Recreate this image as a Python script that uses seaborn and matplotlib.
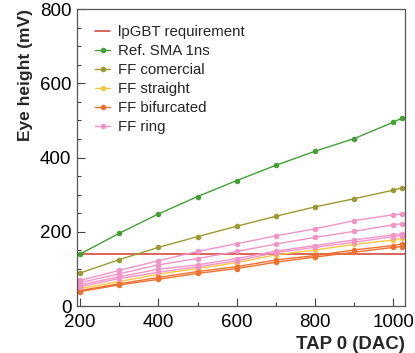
import numpy as np
import pandas as pd
import seaborn as sns
import matplotlib.pyplot as plt
from matplotlib.ticker import MultipleLocator

# Data ########################################################################

tap0 = [200, 300, 400, 500, 600, 700, 800, 900, 1000, 1023]

lpgbt_req = 140

sma_1ns = [140, 196, 248, 295, 338, 379, 417, 451, 495, 507]
ff_comercial = [89, 125, 158, 187, 215, 242, 267, 289, 312, 319]
ff_ring_a = [69, 96, 122, 147, 168, 189, 208, 230, 246, 248]
ff_ring_b = [63, 87, 111, 128, 147, 167, 185, 201, 219, 222]
ff_ring_c = [57, 79, 99, 111, 128, 148, 163, 178, 192, 194]
ff_ring_d = [52, 74, 91, 106, 122, 144, 158, 172, 187, 190]
ff_straight = [47, 66, 86, 101, 117, 138, 151, 166, 178, 183]
ff_bif_a = [42, 60, 77, 93, 106, 124, 136, 151, 163, 167]
ff_bif_b = [39, 57, 72, 88, 101, 118, 132, 145, 158, 160]

# (values, legend label or None, colour)
curves = [
    (sma_1ns, 'Ref. SMA 1ns', '#43a035'),
    (ff_comercial, 'FF comercial', '#9c9a30'),
    (ff_straight, 'FF straight', '#f7c742'),
    (ff_bif_a, 'FF bifurcated', '#f0702e'),
    (ff_bif_b, None, '#f0702e'),
    (ff_ring_a, 'FF ring', '#f294c8'),
    (ff_ring_b, None, '#f294c8'),
    (ff_ring_c, None, '#f294c8'),
    (ff_ring_d, None, '#f294c8'),
]

# Plot ########################################################################

sns.set_style('ticks')
plt.rcParams['font.family'] = ['Liberation Sans', 'DejaVu Sans']

fig = plt.figure(figsize=(4.15, 3.53), dpi=100)
ax = fig.add_axes([0.1855, 0.133, 0.7905, 0.8415])

ax.axhline(lpgbt_req, color='#d23a2a', linewidth=1.1, label='lpGBT requirement')

for vals, name, col in curves:
    df = pd.DataFrame({'tap0': tap0, 'eye': vals})
    sns.lineplot(
        data=df, x='tap0', y='eye', ax=ax,
        color=col, linewidth=1.0,
        marker='o', markersize=4, markeredgewidth=0,
        label=name if name else '_nolegend_',
    )

ax.set_xlim(192, 1030)
ax.set_ylim(0, 800)
ax.xaxis.set_major_locator(MultipleLocator(200))
ax.xaxis.set_minor_locator(MultipleLocator(100))
ax.yaxis.set_major_locator(MultipleLocator(200))
ax.yaxis.set_minor_locator(MultipleLocator(50))
ax.tick_params(which='both', direction='in', colors='#444444', labelcolor='black')
ax.tick_params(which='major', length=6, labelsize=13.5, width=0.8)
ax.tick_params(which='minor', length=3, width=0.8)
ax.tick_params(axis='x', pad=6)
ax.tick_params(axis='y', pad=4)
for s in ax.spines.values():
    s.set_color('#555555')
    s.set_linewidth(0.9)

ax.set_xlabel('TAP 0 (DAC)', fontsize=13.4, fontweight='bold', loc='right', labelpad=3)
ax.set_ylabel('Eye height (mV)', fontsize=12.5, fontweight='bold', loc='top', labelpad=5)

ax.legend(loc='upper left', frameon=False, fontsize=10.8, handlelength=1.0,
          handletextpad=0.55, labelspacing=0.33, borderaxespad=0.5,
          bbox_to_anchor=(0.014, 0.99))

plt.savefig('out.png', dpi=100)
